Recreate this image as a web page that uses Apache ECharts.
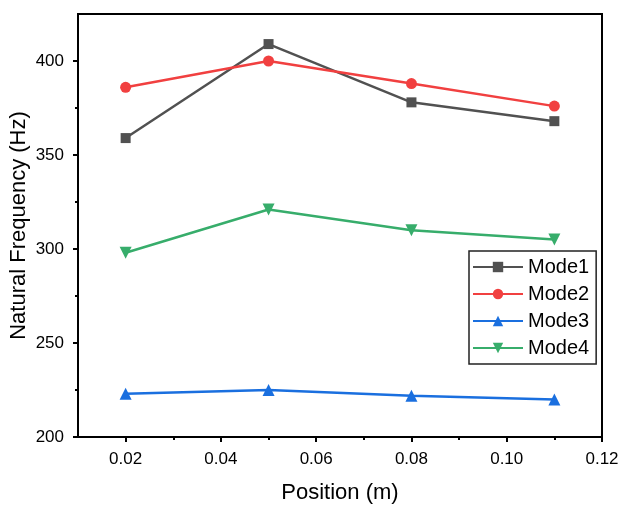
<!DOCTYPE html>
<html>
<head>
<meta charset="utf-8">
<script src="https://cdn.jsdelivr.net/npm/echarts@6/dist/echarts.min.js"></script>
<style>
  html, body { margin: 0; padding: 0; background: #fff; }
  #main { width: 619px; height: 505px; }
</style>
</head>
<body>
<div id="main"></div>
<script>
// data
const positions = [0.02, 0.05, 0.08, 0.11]
const mode1 = [359, 409, 378, 368]
const mode2 = [386, 400, 388, 376]
const mode3 = [223, 225, 222, 220]
const mode4 = [298, 321, 310, 305]

const xTicks = [0.02, 0.04, 0.06, 0.08, 0.10, 0.12]
const xMinorTicks = [0.03, 0.05, 0.07, 0.09, 0.11]
const yTicks = [200, 250, 300, 350, 400]
const yMinorTicks = [225, 275, 325, 375]

const font = "'Liberation Sans', Arial, sans-serif"

function pairs(vals) {
    return positions.map(function (p, i) { return [p, vals[i]] })
}

function lineSeries(name, vals, color, symbol, size, rotate) {
    return {
        name: name,
        type: 'line',
        data: pairs(vals),
        xAxisIndex: 0,
        yAxisIndex: 0,
        symbol: symbol,
        symbolSize: size,
        symbolRotate: rotate || 0,
        showAllSymbol: true,
        lineStyle: { color: color, width: 2.5 },
        itemStyle: { color: color },
        emphasis: { disabled: true },
        animation: false
    }
}

const myChart = echarts.init(document.getElementById('main'))

myChart.setOption({
    backgroundColor: '#fff',
    grid: {
        left: 78,
        right: 17,
        top: 14,
        bottom: 68,
        outerBoundsMode: 'none',
        show: true,
        borderColor: '#000',
        borderWidth: 2
    },
    legend: {
        orient: 'vertical',
        left: 469,
        top: 251,
        padding: [6, 7, 6, 3],
        itemWidth: 50,
        itemHeight: 13,
        itemGap: 7,
        borderColor: '#222',
        borderWidth: 1.5,
        textStyle: { fontFamily: font, fontSize: 20, color: '#000', lineHeight: 20 },
        data: ['Mode1', 'Mode2', 'Mode3', 'Mode4']
    },
    xAxis: [
        {
            type: 'value',
            min: 0.01,
            max: 0.12,
            name: 'Position (m)',
            nameLocation: 'middle',
            nameGap: 45,
            nameMoveOverlap: false,
            nameTextStyle: { fontFamily: font, fontSize: 22, color: '#000' },
            axisLine: { lineStyle: { color: '#000', width: 2 } },
            axisTick: { customValues: xTicks, length: 5, lineStyle: { color: '#000', width: 2 } },
            axisLabel: {
                customValues: xTicks,
                margin: 14,
                fontFamily: font,
                fontSize: 17,
                color: '#000',
                formatter: function (v) { return v.toFixed(2) }
            },
            splitLine: { show: false }
        },
        {
            // only for the short minor ticks
            type: 'value',
            position: 'bottom',
            min: 0.01,
            max: 0.12,
            axisLine: { show: false },
            axisTick: { customValues: xMinorTicks, length: 3, lineStyle: { color: '#000', width: 2 } },
            axisLabel: { show: false },
            splitLine: { show: false }
        }
    ],
    yAxis: [
        {
            type: 'value',
            min: 200,
            max: 425,
            name: 'Natural Frequency (Hz)',
            nameLocation: 'middle',
            nameGap: 48,
            nameMoveOverlap: false,
            nameTextStyle: { fontFamily: font, fontSize: 22, color: '#000' },
            axisLine: { show: true, lineStyle: { color: '#000', width: 2 } },
            axisTick: { show: true, customValues: yTicks, length: 5, lineStyle: { color: '#000', width: 2 } },
            axisLabel: {
                customValues: yTicks,
                margin: 14,
                fontFamily: font,
                fontSize: 17,
                color: '#000'
            },
            splitLine: { show: false }
        },
        {
            type: 'value',
            position: 'left',
            min: 200,
            max: 425,
            axisLine: { show: false },
            axisTick: { show: true, customValues: yMinorTicks, length: 3, lineStyle: { color: '#000', width: 2 } },
            axisLabel: { show: false },
            splitLine: { show: false }
        }
    ],
    series: [
        lineSeries('Mode1', mode1, '#515151', 'rect', 10),
        lineSeries('Mode2', mode2, '#F14040', 'circle', 11),
        lineSeries('Mode3', mode3, '#1A6FDF', 'triangle', 12),
        lineSeries('Mode4', mode4, '#37AD6B', 'triangle', 12, 180)
    ],
    animation: false
})
</script>
</body>
</html>
